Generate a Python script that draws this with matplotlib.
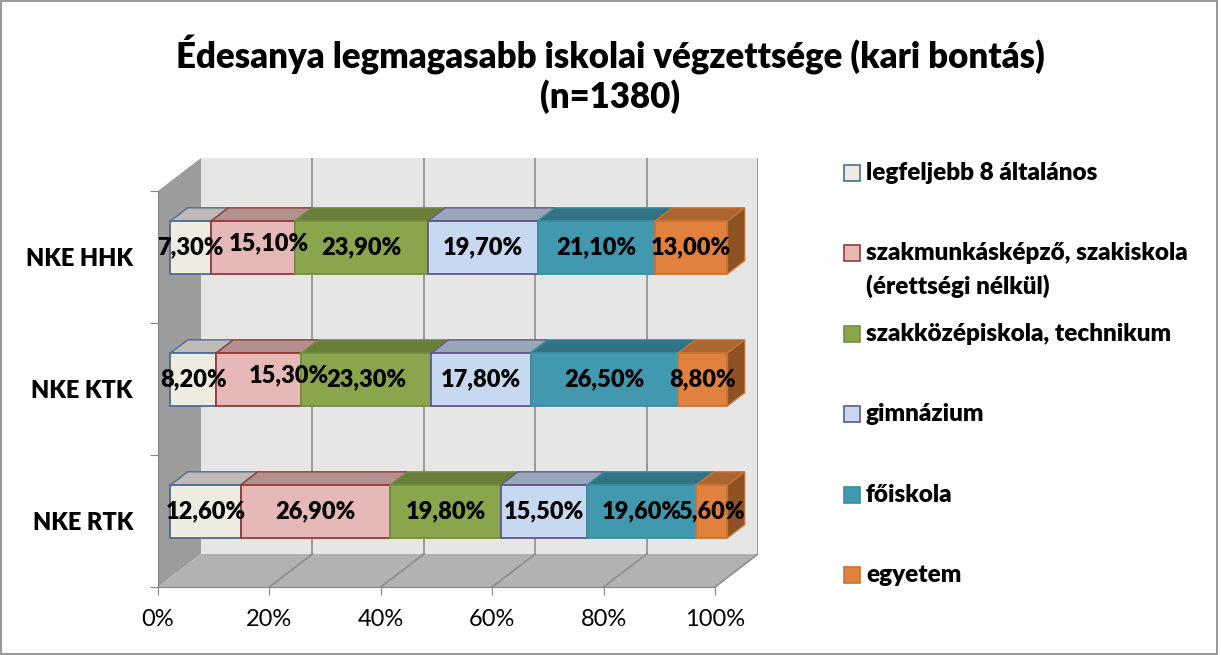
import numpy as np
import matplotlib.pyplot as plt
from matplotlib.patches import Polygon, Rectangle

plt.rcParams['font.family'] = ['Lato', 'DejaVu Sans']

# data (bottom to top in the chart)
categories = ['NKE RTK', 'NKE KTK', 'NKE HHK']
series_names = ['legfeljebb 8 általános',
                'szakmunkásképző, szakiskola\n(érettségi nélkül)',
                'szakközépiskola, technikum',
                'gimnázium',
                'főiskola',
                'egyetem']
legfeljebb_8 = [12.6, 8.2, 7.3]
szakmunkas = [26.9, 15.3, 15.1]
szakkozep = [19.8, 23.3, 23.9]
gimnazium = [15.5, 17.8, 19.7]
foiskola = [19.6, 26.5, 21.1]
egyetem = [5.6, 8.8, 13.0]
xticks = [0, 20, 40, 60, 80, 100]

values = np.array([legfeljebb_8, szakmunkas, szakkozep, gimnazium, foiskola, egyetem])

front_col = ['#EEECE1', '#E6B9B8', '#8AA64C', '#C6D9F1', '#4198AF', '#E0823D']
top_col = ['#BDBBB3', '#B38F8E', '#687E39', '#98A6B8', '#2F7385', '#AD6530']
edge_col = ['#4A6C96', '#953A38', '#758F40', '#65558A', '#3D8DA2', '#C77434']
side_col = '#8E5224'

# a couple of data labels were dragged sideways in the original (pixels)
label_shift = {(1, 1): (30, 4), (1, 2): (16, 4)}

W, H = 1221, 655
fig = plt.figure(figsize=(W / 100, H / 100), dpi=100)

def fx(x):
    return x / W

def fy(y):
    return 1 - y / H

# oblique "3d" offsets (depth direction), in data units
DX = 7.72     # percent
DY = 0.25     # category units
d0, d1 = 0.29, 0.69  # bar front / back depth fraction
bh = 0.40             # bar height
BOLD = 'heavy'

ax = fig.add_axes([fx(158), fy(587), 600 / W, 429 / H])
ax.set_xlim(0, 100 + DX)
ax.set_ylim(-0.5, 2.5 + DY)

wall_z = 0
# back wall, side wall, floor
ax.add_patch(Rectangle((DX, -0.5 + DY), 100, 3, facecolor='#E6E6E6', edgecolor='none', zorder=wall_z))
ax.add_patch(Polygon([(0, -0.5), (DX, -0.5 + DY), (DX, 2.5 + DY), (0, 2.5)],
                     facecolor='#9C9C9C', edgecolor='none', zorder=wall_z))
ax.add_patch(Polygon([(0, -0.5), (100, -0.5), (100 + DX, -0.5 + DY), (DX, -0.5 + DY)],
                     facecolor='#B2B2B2', edgecolor='none', zorder=wall_z))

# gridlines on the back wall and the floor
for t in xticks[1:]:
    ax.plot([t + DX, t + DX], [-0.5 + DY, 2.5 + DY], color='#8C8C8C', lw=1.2, zorder=1)
    ax.plot([t, t + DX], [-0.5, -0.5 + DY], color='#8C8C8C', lw=1.2, zorder=1)

# stacked bars
ypos = np.arange(len(categories))
totals = values.sum(axis=0)
shares = values / totals * 100
lefts = np.vstack([np.zeros(len(categories)), np.cumsum(shares, axis=0)[:-1]])
depth = (d1 - d0)

for i in range(len(series_names)):
    for j in range(len(categories)):
        x0 = lefts[i, j] + d0 * DX
        x1 = x0 + shares[i, j]
        yt = ypos[j] + bh / 2 + d0 * DY
        yb = ypos[j] - bh / 2 + d0 * DY
        ax.add_patch(Polygon([(x0, yt), (x1, yt), (x1 + depth * DX, yt + depth * DY),
                              (x0 + depth * DX, yt + depth * DY)],
                             facecolor=top_col[i], edgecolor=edge_col[i], lw=1, zorder=3))
        if i == len(series_names) - 1:
            ax.add_patch(Polygon([(x1, yb), (x1, yt), (x1 + depth * DX, yt + depth * DY),
                                  (x1 + depth * DX, yb + depth * DY)],
                                 facecolor=side_col, edgecolor=edge_col[i], lw=1, zorder=3))
    ax.barh(ypos + d0 * DY, shares[i], left=lefts[i] + d0 * DX, height=bh,
            color=front_col[i], edgecolor=edge_col[i], lw=1.3, zorder=4)
    for j in range(len(categories)):
        sx, sy = label_shift.get((i, j), (0, 0))
        ax.annotate(f'{values[i, j]:.2f}%'.replace('.', ','),
                    (lefts[i, j] + shares[i, j] / 2 + d0 * DX, ypos[j] + d0 * DY),
                    xytext=(sx * 0.72, sy * 0.72), textcoords='offset points',
                    ha='center', va='center', fontsize=17, fontweight=BOLD,
                    color='black', zorder=6)

# axes styling
for s in ['top', 'right']:
    ax.spines[s].set_visible(False)
ax.spines['left'].set_bounds(-0.5, 2.5)
ax.spines['bottom'].set_bounds(0, 100)
ax.spines['left'].set_color('#868686')
ax.spines['bottom'].set_color('#868686')
ax.set_xticks(xticks)
ax.set_xticklabels([f'{t}%' for t in xticks])
ax.tick_params(axis='x', length=6, color='#868686', labelsize=17, pad=10)
ax.set_yticks([-0.5, 0.5, 1.5, 2.5])
ax.set_yticklabels([])
ax.set_yticks(ypos, minor=True)
ax.set_yticklabels(categories, minor=True, fontweight=BOLD, fontsize=17)
ax.tick_params(axis='y', which='major', length=6, color='#868686')
ax.tick_params(axis='y', which='minor', length=0, pad=18)

# title
fig.text(0.5, fy(55), 'Édesanya legmagasabb iskolai végzettsége (kari bontás)',
         ha='center', va='center', fontsize=25, fontweight=BOLD)
fig.text(0.5, fy(97), '(n=1380)', ha='center', va='center', fontsize=25, fontweight=BOLD)

# legend
for i, name in enumerate(series_names):
    yc = 173 + i * 80.4
    fig.patches.append(Rectangle((fx(844), fy(yc + 8)), 16 / W, 16 / H, transform=fig.transFigure,
                                 facecolor=front_col[i], edgecolor=edge_col[i], lw=1.2))
    for k, line in enumerate(name.split('\n')):
        fig.text(fx(866), fy(yc + 33 * k), line, ha='left', va='center',
                 fontsize=17.5, fontweight=BOLD)

# outer border
fig.patches.append(Rectangle((0.001, 0.002), 0.996, 0.996, transform=fig.transFigure,
                             facecolor='none', edgecolor='#868686', lw=1.2))

fig.savefig('out.png', dpi=100)
